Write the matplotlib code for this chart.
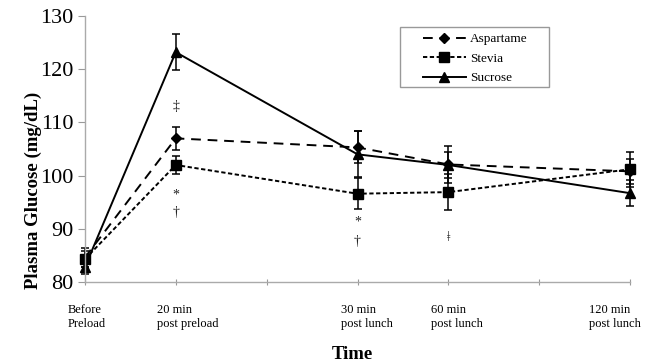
import matplotlib
matplotlib.use("Agg")
import matplotlib.pyplot as plt
import matplotlib.transforms as mtransforms
from matplotlib.patches import Rectangle

plt.rcParams['font.family'] = ['Liberation Serif', 'DejaVu Serif']

# Data
x_pos = [0, 1, 3, 4, 6]
tick_labels = ["Before\nPreload", "20 min\npost preload", "30 min\npost lunch",
               "60 min\npost lunch", "120 min\npost lunch"]
aspartame = [84.6, 107.0, 105.3, 102.1, 100.8]
aspartame_err = [1.8, 2.1, 3.0, 3.5, 2.4]
stevia = [84.3, 102.0, 96.6, 96.9, 101.2]
stevia_err = [1.5, 1.7, 2.9, 3.4, 3.3]
sucrose = [82.8, 123.2, 104.0, 102.0, 96.7]
sucrose_err = [1.3, 3.4, 4.3, 2.4, 2.4]

# significance annotations: (x, y, symbol)
annot_x = [1, 1, 1, 3, 3, 4]
annot_y = [112.9, 96.4, 93.0, 91.3, 87.6, 88.3]
annot_sym = ["‡", "*", "†", "*", "†", "ǂ"]

fig = plt.figure(figsize=(6.53, 3.63), dpi=100)
ax = fig.add_axes([0.130, 0.223, 0.835, 0.733])

ek = dict(color='black', elinewidth=1.1, capsize=3, capthick=1.1)
series = [
    (aspartame, aspartame_err, 'D', 5, (0, (5, 3.5)), 'Aspartame'),
    (stevia, stevia_err, 's', 7, (0, (2.2, 1.3)), 'Stevia'),
    (sucrose, sucrose_err, '^', 7, '-', 'Sucrose'),
]
handles = []
for vals, errs, mk, ms, ls, lab in series:
    cont = ax.errorbar(x_pos, vals, yerr=errs, marker=mk, markersize=ms,
                       linestyle=ls, linewidth=1.4, label=lab, **ek)
    for art in cont.get_children():
        art.set_clip_on(False)
    handles.append(cont[0])

for xa, ya, s in zip(annot_x, annot_y, annot_sym):
    ax.text(xa, ya, s, ha='center', va='center', fontsize=10, color='#222222')

ax.set_xlim(0, 6)
ax.set_ylim(80, 130)
ax.set_yticks([80, 90, 100, 110, 120, 130])
ax.tick_params(axis='y', labelsize=16, length=5, color='#999999', pad=3)
ax.set_xticks([0, 1, 2, 3, 4, 5, 6])
lbls = []
j = 0
for i in range(7):
    if i in x_pos:
        lbls.append(tick_labels[j]); j += 1
    else:
        lbls.append("")
ax.set_xticklabels(lbls, fontsize=9, multialignment='left', linespacing=1.2)
ax.tick_params(axis='x', length=4, color='#999999', pad=14, direction='inout')

offsets_px = {0: 1.5, 1: 12, 3: 9, 4: 8.5, 6: -15}
for i, t in enumerate(ax.get_xticklabels()):
    if i in offsets_px:
        t.set_transform(t.get_transform() + mtransforms.ScaledTranslation(offsets_px[i] / 100, 0, fig.dpi_scale_trans))

for sp in ['top', 'right']:
    ax.spines[sp].set_visible(False)
for sp in ['left', 'bottom']:
    ax.spines[sp].set_color('#aaaaaa')
    ax.spines[sp].set_linewidth(1.0)

ax.set_ylabel("Plasma Glucose (mg/dL)", fontsize=13.5, fontweight='bold')
ax.yaxis.set_label_coords(-0.079, 0.346)
ax.set_xlabel("Time", fontsize=13.5, fontweight='bold')
ax.xaxis.set_label_coords(0.49, -0.24)

# legend without frame + a plain rectangular box around it
leg = ax.legend(handles=handles, labels=[s[5] for s in series],
                loc='upper left', bbox_to_anchor=(0.612, 0.951), fontsize=9.5,
                frameon=False, borderaxespad=0,
                handlelength=3.3, borderpad=0.3, labelspacing=0.55, handletextpad=0.3)
ax.add_patch(Rectangle((0.578, 0.733), 0.273, 0.226, transform=ax.transAxes,
                       fill=False, edgecolor='#999999', linewidth=1.0, clip_on=False))

fig.savefig("out.png", dpi=100)
